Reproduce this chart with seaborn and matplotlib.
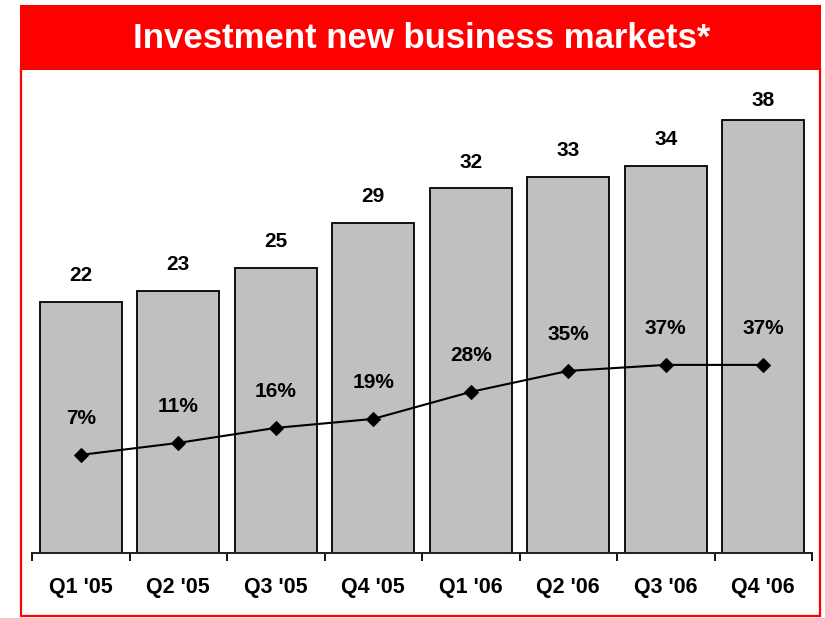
import matplotlib
matplotlib.use("Agg")
import matplotlib.pyplot as plt
import seaborn as sns
import pandas as pd
from matplotlib.patches import Rectangle

# --- data ---
quarters = ["Q1 '05", "Q2 '05", "Q3 '05", "Q4 '05", "Q1 '06", "Q2 '06", "Q3 '06", "Q4 '06"]
volumes = [22, 23, 25, 29, 32, 33, 34, 38]
shares = [7, 11, 16, 19, 28, 35, 37, 37]

RED = "#FF0000"
GREY = "#C0C0C0"

sns.set_theme(style="white")
plt.rcParams["font.family"] = ["Liberation Sans", "DejaVu Sans"]
plt.rcParams["font.weight"] = "bold"
plt.rcParams["text.color"] = "black"
plt.rcParams["xtick.color"] = "black"

df = pd.DataFrame({"quarter": quarters, "volume": volumes, "share": shares})

fig = plt.figure(figsize=(8.25, 6.18), dpi=100)
W, H = 825, 618

# red banner + frame (pixel coords -> figure fraction)
fig.patches.append(Rectangle((20 / W, 1 - 70 / H), 801 / W, 65 / H,
                             transform=fig.transFigure, facecolor=RED,
                             edgecolor="none", zorder=0))
fig.patches.append(Rectangle((21 / W, 1 - 616 / H), 799 / W, 548 / H,
                             transform=fig.transFigure, facecolor="none",
                             edgecolor=RED, lw=1.6, zorder=0))
fig.text(421.5 / W, 1 - 38 / H, "Investment new business markets*",
         color="white", fontsize=25, fontweight="bold", ha="center", va="center")

ax = fig.add_axes([32 / W, 1 - 553 / H, 780 / W, 483 / H])
ax.patch.set_alpha(0)

sns.barplot(data=df, x="quarter", y="volume", color=GREY, width=0.84,
            edgecolor="black", linewidth=1.3, saturation=1, ax=ax)
ax.set_xlim(-0.5, len(quarters) - 0.5)
ax.set_ylim(0, 42.4)

# value labels above bars (last one sits tighter under the frame)
offsets = [19, 19, 19, 19, 19, 19, 19, 14]
for i, (v, off) in enumerate(zip(volumes, offsets)):
    ax.annotate(str(v), (i, v), xytext=(0, off), textcoords="offset points",
                ha="center", va="center", fontsize=15, fontweight="bold",
                color="black")

# market share line on a twin axis
ax2 = ax.twinx()
sns.lineplot(x=range(len(quarters)), y=shares, ax=ax2, color="black",
             lw=1.5, marker="D", markersize=7, markeredgecolor="black")
ax2.set_ylim(-25.7, 135.3)
for i, s in enumerate(shares):
    ax2.annotate(f"{s}%", (i, s), xytext=(0, 26), textcoords="offset points",
                 ha="center", va="center", fontsize=15, fontweight="bold",
                 color="black")

for a in (ax, ax2):
    for side in ("left", "right", "top"):
        a.spines[side].set_visible(False)
    a.set_yticks([])
    a.set_xlabel("")
    a.set_ylabel("")
ax2.set_xticks([])

ax.spines["bottom"].set_color("black")
ax.spines["bottom"].set_linewidth(1.3)
ax.set_xticks([i - 0.5 for i in range(len(quarters) + 1)])
ax.set_xticklabels([])
ax.set_xticks(range(len(quarters)), minor=True)
ax.set_xticklabels(quarters, minor=True, fontsize=15.5, fontweight="bold")
ax.tick_params(axis="x", which="major", direction="out", length=6,
               width=1.3, color="black", bottom=True)
ax.tick_params(axis="x", which="minor", length=0, pad=17, bottom=True,
               labelcolor="black")

fig.savefig("out.png", dpi=100)
